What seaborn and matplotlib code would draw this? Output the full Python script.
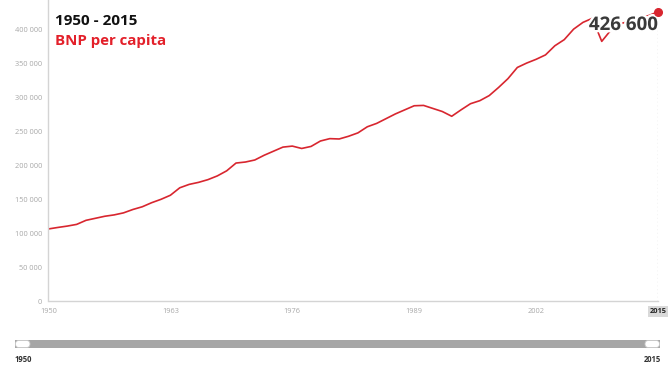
import matplotlib
matplotlib.use("Agg")
import matplotlib.pyplot as plt
import matplotlib.patheffects as pe
from matplotlib.patches import FancyBboxPatch, Rectangle
from matplotlib.ticker import FuncFormatter
import seaborn as sns
import pandas as pd

# ---- data ----
years = list(range(1950, 2016))
gdp_per_capita = [
    106300, 108500, 110500, 113000, 119000, 122000, 125000, 127000, 130000, 135000,
    139000, 145000, 150000, 156000, 167000, 172000, 175000, 179000, 184500, 192000,
    203500, 205000, 208000, 215000, 221000, 227000, 228500, 225000, 228000, 236000,
    239500, 239000, 243000, 248000, 257000, 262000, 269000, 276000, 282000, 288000,
    288500, 284000, 279500, 272500, 282000, 291000, 295500, 303000, 315000, 328000,
    344500, 351000, 356500, 363000, 376500, 385500, 401000, 411000, 417000, 383000,
    400000, 409000, 413000, 417000, 421000, 426600,
]
x_ticks = [1950, 1963, 1976, 1989, 2002, 2015]
y_ticks = [0, 50000, 100000, 150000, 200000, 250000, 300000, 350000, 400000]
title_text = "1950 - 2015"
subtitle_text = "BNP per capita"
last_label = "426 600"
slider_start, slider_end = "1950", "2015"

df = pd.DataFrame({"year": years, "value": gdp_per_capita})

sns.set_style("white")
plt.rcParams["font.family"] = ["Open Sans", "DejaVu Sans"]

W, H = 672, 372
fig = plt.figure(figsize=(W / 100, H / 100), dpi=100)

L, R, T, B = 48.5, 658, 0, 301
ax = fig.add_axes([L / W, 1 - B / H, (R - L) / W, (B - T) / H])

RED = "#d8262f"
sns.lineplot(data=df, x="year", y="value", ax=ax, color=RED, linewidth=1.2)

ax.set_xlim(years[0], years[-1])
ax.set_ylim(0, 444000)
ax.set_xlabel("")
ax.set_ylabel("")

ax.set_yticks(y_ticks)
ax.yaxis.set_major_formatter(FuncFormatter(lambda v, p: f"{int(v):,}".replace(",", " ")))
ax.set_xticks(x_ticks)
ax.set_xticklabels([str(t) for t in x_ticks])
ax.tick_params(axis="both", length=0, labelsize=5.3, colors="#a8a8a8")
ax.tick_params(axis="y", pad=4.5)
ax.tick_params(axis="x", pad=5)

lbl = ax.get_xticklabels()[-1]
lbl.set_fontweight("bold")
lbl.set_color("#222222")
lbl.set_bbox(dict(facecolor="#d9d9d9", edgecolor="none", pad=1.2))

for s in ["top", "right"]:
    ax.spines[s].set_visible(False)
for s in ["left", "bottom"]:
    ax.spines[s].set_color("#d4d4d4")
    ax.spines[s].set_linewidth(1.0)

ax.axvline(years[-1], color="#b5b5b5", linestyle=(0, (1, 2)), linewidth=0.9)

ax.plot([years[-1]], [gdp_per_capita[-1]], marker="o", markersize=5.5,
        color=RED, clip_on=False, zorder=8)
ax.annotate(last_label, xy=(years[-1], gdp_per_capita[-1]), xytext=(0, -9.5),
            textcoords="offset points", ha="right", va="center",
            fontsize=13.5, fontweight="bold", color="#3a3a3a", zorder=6,
            path_effects=[pe.withStroke(linewidth=3.5, foreground="white")])

fig.text(55 / W, 1 - 25 / H, title_text, fontsize=11, fontweight="bold",
         color="#111111", va="baseline", ha="left")
fig.text(55 / W, 1 - 45.5 / H, subtitle_text, fontsize=10.8, fontweight="bold",
         color="#e3202a", va="baseline", ha="left")

# ---- range slider decoration ----
sl = fig.add_axes([0, 0, 1, 1], zorder=-1)
sl.set_xlim(0, W)
sl.set_ylim(H, 0)
sl.axis("off")
sl.add_patch(Rectangle((15, 340), 645, 8, facecolor="#a6a6a6", edgecolor="none"))
for hx in (15.5, 645):
    sl.add_patch(FancyBboxPatch((hx, 340.5), 14.5, 7, boxstyle="round,pad=0,rounding_size=3.5",
                                facecolor="white", edgecolor="#c8c8c8", linewidth=0.6))
sl.text(15, 361.5, slider_start, fontsize=5.5, fontweight="bold", color="#333333",
        ha="left", va="baseline")
sl.text(661, 361.5, slider_end, fontsize=5.5, fontweight="bold", color="#333333",
        ha="right", va="baseline")

fig.savefig("out.png", dpi=100)
